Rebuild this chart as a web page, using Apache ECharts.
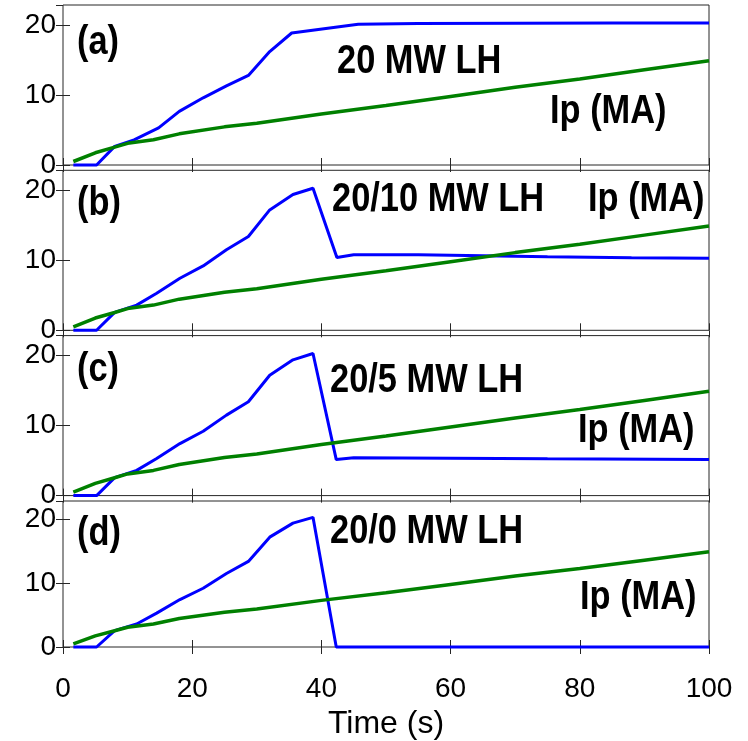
<!DOCTYPE html>
<html>
<head>
<meta charset="utf-8">
<script src="https://cdn.jsdelivr.net/npm/echarts@6/dist/echarts.min.js"></script>
<style>
  html, body { margin: 0; padding: 0; background: #ffffff; }
  #chart { width: 748px; height: 741px; }
</style>
</head>
<body>
<div id="chart"></div>
<script>
// Plasma current (MA), shared by all four scenarios
const ipTime = [1.6, 5, 8, 10, 14, 18, 25, 30, 40, 50, 60, 70, 80, 90, 100];
const ipMA   = [0.5, 1.75, 2.55, 3.1, 3.6, 4.45, 5.45, 5.95, 7.3, 8.5, 9.8, 11.1, 12.3, 13.6, 14.9];

// LH power (MW) for each scenario
const lhTimeA  = [1.6, 5.2, 8, 11, 14.8, 18, 21.7, 25.3, 28.7, 32, 35.4, 45.7, 55, 70, 85, 100];
const lhPowerA = [0, 0, 2.66, 3.6, 5.3, 7.66, 9.6, 11.3, 12.8, 16.2, 18.86, 20.1, 20.2, 20.25, 20.3, 20.3];

const lhTimeB  = [1.6, 5.2, 8, 11.4, 14.5, 18.1, 21.7, 25.3, 28.7, 32, 35.6, 38.7, 42.4, 45, 55, 65, 75, 88, 100];
const lhPowerB = [0, 0, 2.57, 3.6, 5.3, 7.43, 9.2, 11.5, 13.4, 17.2, 19.4, 20.3, 10.4, 10.8, 10.8, 10.65, 10.5, 10.35, 10.3];

const lhTimeC  = [1.6, 5.2, 8, 11.4, 14.5, 18.1, 21.7, 25.3, 28.7, 32, 35.6, 38.7, 42.3, 45, 60, 75, 100];
const lhPowerC = [0, 0, 2.57, 3.6, 5.3, 7.43, 9.2, 11.5, 13.4, 17.2, 19.4, 20.3, 5.15, 5.4, 5.35, 5.25, 5.15];

const lhTimeD  = [1.6, 5.2, 8, 11.4, 14.5, 18.1, 21.7, 25.3, 28.7, 32, 35.6, 38.7, 42.3, 100];
const lhPowerD = [0, 0, 2.57, 3.6, 5.3, 7.43, 9.2, 11.5, 13.4, 17.2, 19.4, 20.3, 0, 0];

const panelTags   = ['(a)', '(b)', '(c)', '(d)'];
const powerLabels = ['20 MW LH', '20/10 MW LH', '20/5 MW LH', '20/0 MW LH'];
const ipLabel     = 'Ip (MA)';
const xTicks      = [0, 20, 40, 60, 80, 100];
const yTicks      = [0, 10, 20];
const xName       = 'Time (s)';

const lhSets = [
  [lhTimeA, lhPowerA],
  [lhTimeB, lhPowerB],
  [lhTimeC, lhPowerC],
  [lhTimeD, lhPowerD]
];

const pairs = (xs, ys) => xs.map((x, i) => [x, ys[i]]);

const FRAME = '#262626';
const FONT = '"Liberation Sans", Arial, Helvetica, sans-serif';
const panelTops = [5, 170.3, 335.6, 501];
const panelH = 160;
const yMax = 22.86;

const grids = [], xAxes = [], yAxes = [], series = [];

panelTops.forEach((top, i) => {
  grids.push({
    left: 63, right: 39, top: top, height: panelH,
    show: true, borderColor: FRAME, borderWidth: 1, backgroundColor: '#ffffff'
  });
  const last = i === panelTops.length - 1;
  // bottom x axis (carries the data)
  xAxes.push({
    gridIndex: i, type: 'value', position: 'bottom',
    min: xTicks[0], max: xTicks[xTicks.length - 1], interval: 20,
    axisLine: { show: false },
    axisTick: { show: true, inside: true, length: 7, lineStyle: { color: FRAME, width: 1 } },
    splitLine: { show: false },
    axisLabel: {
      show: last, color: '#000', fontSize: 28, fontFamily: FONT, margin: 28,
      formatter: v => xTicks.includes(v) ? String(v) : ''
    },
    name: last ? xName : '',
    nameLocation: 'middle', nameGap: 61,
    nameTextStyle: { color: '#000', fontSize: 32, fontFamily: FONT }
  });
  // mirrored ticks along the top edge
  xAxes.push({
    gridIndex: i, type: 'value', position: 'top',
    min: xTicks[0], max: xTicks[xTicks.length - 1], interval: 20,
    axisLine: { show: false },
    axisTick: { show: true, inside: true, length: 7, lineStyle: { color: FRAME, width: 1 } },
    splitLine: { show: false },
    axisLabel: { show: false }
  });
  // left y axis (carries the data)
  yAxes.push({
    gridIndex: i, type: 'value', position: 'left',
    min: 0, max: yMax, interval: 10,
    axisLine: { show: false },
    axisTick: { show: true, inside: true, length: 7, lineStyle: { color: FRAME, width: 1 } },
    splitLine: { show: false },
    axisLabel: {
      color: '#000', fontSize: 28, fontFamily: FONT, margin: 7,
      showMaxLabel: false,
      formatter: v => yTicks.includes(v) ? String(v) : ''
    }
  });
  // mirrored ticks along the right edge
  yAxes.push({
    gridIndex: i, type: 'value', position: 'right',
    min: 0, max: yMax, interval: 10,
    axisLine: { show: false },
    axisTick: { show: true, inside: true, length: 7, lineStyle: { color: FRAME, width: 1 } },
    splitLine: { show: false },
    axisLabel: { show: false }
  });

  const [lt, lp] = lhSets[i];
  series.push({
    type: 'line', xAxisIndex: 2 * i, yAxisIndex: 2 * i,
    data: pairs(lt, lp), symbol: 'none', clip: false, z: 3,
    lineStyle: { color: '#0000ff', width: 3 }
  });
  series.push({
    type: 'line', xAxisIndex: 2 * i, yAxisIndex: 2 * i,
    data: pairs(ipTime, ipMA), symbol: 'none', clip: false, z: 4,
    lineStyle: { color: '#008000', width: 3.5 }
  });
});

// panel annotations: [text, left x, middle y]
const notes = [
  [panelTags[0], 77, 43],  [powerLabels[0], 337, 61.5], [ipLabel, 550, 112],
  [panelTags[1], 77, 204], [powerLabels[1], 332, 200],  [ipLabel, 588, 200],
  [panelTags[2], 77, 370], [powerLabels[2], 330, 381],  [ipLabel, 578, 431],
  [panelTags[3], 77, 534], [powerLabels[3], 330, 532],  [ipLabel, 580, 598]
];

const graphic = notes.map(([t, x, y]) => ({
  type: 'text', x: x, y: y, scaleX: 0.86, z: 10,
  style: {
    text: t, fill: '#000',
    fontSize: 40, fontWeight: 'bold', fontFamily: FONT,
    align: 'left', verticalAlign: 'middle'
  }
}));

const chart = echarts.init(document.getElementById('chart'), null, { renderer: 'canvas' });
chart.setOption({
  backgroundColor: '#ffffff',
  animation: false,
  grid: grids,
  xAxis: xAxes,
  yAxis: yAxes,
  series: series,
  graphic: graphic
});
</script>
</body>
</html>
